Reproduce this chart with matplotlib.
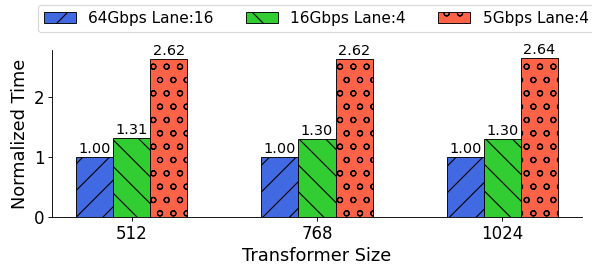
import numpy as np
import matplotlib
matplotlib.use('Agg')
import matplotlib.pyplot as plt

sizes = ['512', '768', '1024']
series_names = ['64Gbps Lane:16', '16Gbps Lane:4', '5Gbps Lane:4']
vals_64g = [1.00, 1.00, 1.00]
vals_16g = [1.31, 1.30, 1.30]
vals_5g = [2.62, 2.62, 2.64]

colors = ['royalblue', 'limegreen', 'tomato']
hatches = ['/', '\\', 'o']

# rendered at 80 dpi so the hatch spacing matches the reference
fig = plt.figure(figsize=(7.4, 3.35), dpi=80)
ax = fig.add_axes([0.088, 0.19, 0.895, 0.623])

x = np.arange(len(sizes))
w = 0.2
for i, (vals, name) in enumerate(zip([vals_64g, vals_16g, vals_5g], series_names)):
    bars = ax.bar(x + (i - 1) * w, vals, w, color=colors[i], hatch=hatches[i],
                  edgecolor='black', linewidth=0.8, label=name)
    ax.bar_label(bars, labels=[f'{v:.2f}' for v in vals], fontsize=13, padding=1)

ax.set_xticks(x)
ax.set_xticklabels(sizes, fontsize=15)
ax.tick_params(axis='y', labelsize=15)
ax.set_yticks([0, 1, 2])
ax.set_xlabel('Transformer Size', fontsize=16)
ax.set_ylabel('Normalized Time', fontsize=16)
ax.spines['top'].set_visible(False)
ax.spines['right'].set_visible(False)

fig.legend(loc='upper center', bbox_to_anchor=(0.534, 0.981), ncol=3, fontsize=13.8,
           handlelength=2.1, columnspacing=2.1, borderaxespad=0)

fig.savefig('out.png', dpi=80)
